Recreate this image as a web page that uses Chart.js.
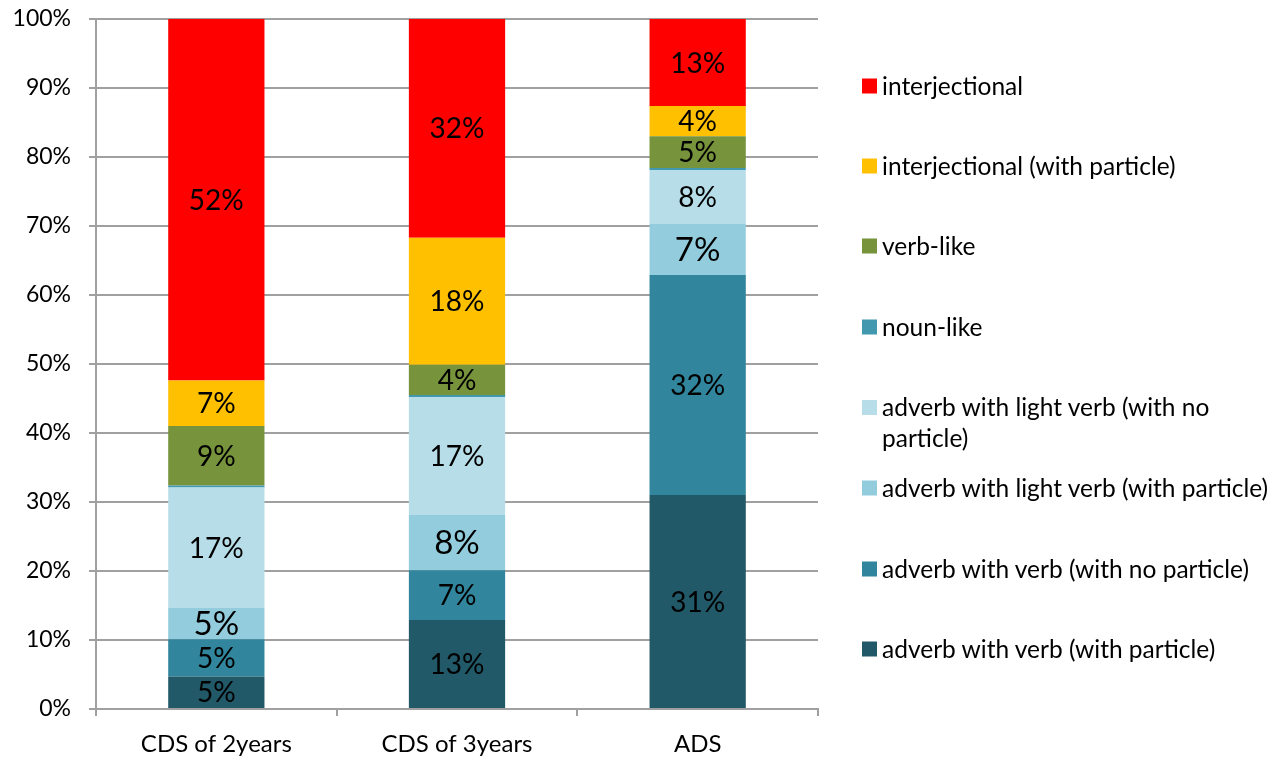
<!DOCTYPE html>
<html>
<head>
<meta charset="utf-8">
<script src="https://cdn.jsdelivr.net/npm/chart.js@4/dist/chart.umd.min.js"></script>
<style>
    body { margin: 0; background: #fff; }
    #wrap { position: relative; width: 1280px; height: 758px; }
    #legend { position: absolute; left: 862px; top: 0; width: 418px; font-family: Lato, sans-serif; font-size: 24.5px; color: #000; }
    .item { position: absolute; left: 0; display: flex; align-items: flex-start; transform: translateY(-50%); }
    .box { width: 15px; height: 15px; margin-top: 9px; margin-right: 5px; flex: none; }
    .txt { width: 398px; line-height: 31px; }
</style>
</head>
<body>
<div id="wrap">
    <canvas id="stack-chart"></canvas>
    <div id="legend"></div>
</div>
<script>
// categories and series (bottom of the stack first)
const groups = ["CDS of 2years", "CDS of 3years", "ADS"];
const seriesNames = [
    "adverb with verb (with particle)",
    "adverb with verb (with no particle)",
    "adverb with light verb (with particle)",
    "adverb with light verb (with no particle)",
    "noun-like",
    "verb-like",
    "interjectional (with particle)",
    "interjectional",
];
const seriesColors = ["#215968", "#31859C", "#93CDDD", "#B7DEE8", "#4198AF", "#77933C", "#FFC000", "#FF0000"];

// percentages per series: [CDS of 2years, CDS of 3years, ADS]
const advVerbParticle = [4.7, 12.9, 31.0];
const advVerbNoParticle = [5.4, 7.2, 31.9];
const advLightParticle = [4.6, 8.0, 7.4];
const advLightNoParticle = [17.4, 17.1, 7.8];
const nounLike = [0.3, 0.3, 0.3];
const verbLike = [8.6, 4.4, 4.6];
const interjParticle = [6.6, 18.4, 4.4];
const interjectional = [52.4, 31.7, 12.6];

const seriesValues = [advVerbParticle, advVerbNoParticle, advLightParticle, advLightNoParticle,
    nounLike, verbLike, interjParticle, interjectional];

const yTicks = [0, 10, 20, 30, 40, 50, 60, 70, 80, 90, 100];

const gridGray = "#a0a0a0";
const fontName = "Lato, sans-serif";

// draws the rounded percentage inside every segment
const segmentLabels = {
    id: "segmentLabels",
    afterDatasetsDraw(chart) {
        const ctx = chart.ctx;
        ctx.save();
        ctx.fillStyle = "#000";
        ctx.textAlign = "center";
        ctx.textBaseline = "middle";
        chart.data.datasets.forEach((ds, i) => {
            const meta = chart.getDatasetMeta(i);
            ctx.font = (i === 2 ? "33px " : "28px ") + fontName;
            meta.data.forEach((bar, j) => {
                const v = ds.data[j];
                if (v < 1) return;
                ctx.fillText(Math.round(v) + "%", bar.x, (bar.y + bar.base) / 2 + 1);
            });
        });
        ctx.restore();
    },
};

const chartCanvas = document.getElementById("stack-chart");

new Chart(chartCanvas, {
    type: "bar",
    data: {
        labels: groups,
        datasets: seriesNames.map((name, i) => ({
            label: name,
            data: seriesValues[i],
            backgroundColor: seriesColors[i],
            borderWidth: 0,
            barPercentage: 0.4,
            categoryPercentage: 1,
        })),
    },
    options: {
        responsive: true,
        maintainAspectRatio: false,
        animation: false,
        layout: { padding: { top: 19, right: 462, left: 0, bottom: 0 } },
        scales: {
            x: {
                stacked: true,
                offset: true,
                grid: { offset: true, drawOnChartArea: false, drawTicks: true, tickLength: 7, color: gridGray, lineWidth: 2 },
                border: { color: gridGray, width: 2 },
                ticks: { color: "#000", font: { family: fontName, size: 24 }, padding: 14 },
                afterFit(scale) { scale.height = 49; },
            },
            y: {
                stacked: true,
                min: 0,
                max: 100,
                afterBuildTicks(scale) { scale.ticks = yTicks.map(v => ({ value: v })); },
                grid: { color: gridGray, lineWidth: 2, tickLength: 7 },
                border: { color: gridGray, width: 2 },
                ticks: {
                    color: "#000",
                    font: { family: fontName, size: 23 },
                    padding: 18,
                    callback: v => v + "%",
                },
                afterFit(scale) {
                    scale.width = 96;
                    // tick padding should not push the plot area down
                    scale.paddingTop = 0;
                    scale.paddingBottom = 0;
                },
            },
        },
        plugins: {
            legend: { display: false },
            tooltip: { enabled: false },
        },
    },
    plugins: [segmentLabels],
});

// legend on the right, top item = top of the stack
const legendBox = document.getElementById("legend");
const legendCenters = [85, 165, 245, 326, 422, 487, 568, 648];
seriesNames.slice().reverse().forEach((name, k) => {
    const i = seriesNames.length - 1 - k;
    const item = document.createElement("div");
    item.className = "item";
    item.style.top = legendCenters[k] + "px";
    item.innerHTML = '<div class="box" style="background:' + seriesColors[i] + '"></div><div class="txt">' + name + "</div>";
    legendBox.appendChild(item);
});
</script>
</body>
</html>
